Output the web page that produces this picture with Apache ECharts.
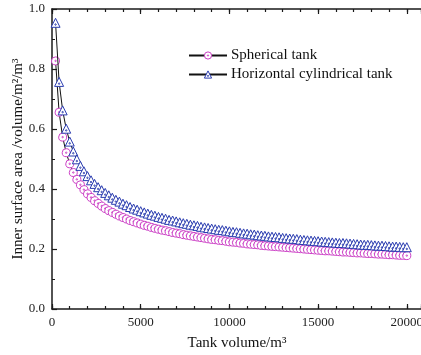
<!DOCTYPE html>
<html>
<head>
<meta charset="utf-8">
<script src="https://cdn.jsdelivr.net/npm/echarts@6/dist/echarts.min.js"></script>
<style>html,body{margin:0;padding:0;background:#fff}#c{width:421px;height:355px}</style>
</head>
<body>
<div id="c"></div>
<script>
const volumes = [200,400,600,800,1000,1200,1400,1600,1800,2000,2200,2400,2600,2800,3000,3200,3400,3600,3800,4000,
4200,4400,4600,4800,5000,5200,5400,5600,5800,6000,6200,6400,6600,6800,7000,7200,7400,7600,7800,8000,
8200,8400,8600,8800,9000,9200,9400,9600,9800,10000,10200,10400,10600,10800,11000,11200,11400,11600,11800,12000,
12200,12400,12600,12800,13000,13200,13400,13600,13800,14000,14200,14400,14600,14800,15000,15200,15400,15600,15800,16000,
16200,16400,16600,16800,17000,17200,17400,17600,17800,18000,18200,18400,18600,18800,19000,19200,19400,19600,19800,20000];
const spherical = [0.827,0.656,0.573,0.521,0.484,0.455,0.432,0.414,0.398,0.384,0.372,0.361,0.352,0.343,0.335,0.328,0.322,0.316,0.310,0.305,
0.300,0.295,0.291,0.287,0.283,0.279,0.276,0.272,0.269,0.266,0.263,0.261,0.258,0.255,0.253,0.251,0.248,0.246,0.244,0.242,
0.240,0.238,0.236,0.234,0.232,0.231,0.229,0.228,0.226,0.224,0.223,0.222,0.220,0.219,0.217,0.216,0.215,0.214,0.212,0.211,
0.210,0.209,0.208,0.207,0.206,0.205,0.204,0.203,0.202,0.201,0.200,0.199,0.198,0.197,0.196,0.195,0.194,0.194,0.193,0.192,
0.191,0.190,0.190,0.189,0.188,0.187,0.187,0.186,0.185,0.185,0.184,0.183,0.183,0.182,0.181,0.181,0.180,0.179,0.179,0.178];
const cylindrical = [0.954,0.757,0.662,0.601,0.558,0.525,0.499,0.477,0.459,0.443,0.429,0.417,0.406,0.396,0.387,0.379,0.371,0.364,0.358,0.351,
0.346,0.340,0.335,0.331,0.326,0.322,0.318,0.314,0.311,0.307,0.304,0.301,0.297,0.295,0.292,0.289,0.286,0.284,0.281,0.279,
0.277,0.274,0.272,0.270,0.268,0.266,0.264,0.263,0.261,0.259,0.257,0.256,0.254,0.252,0.251,0.249,0.248,0.246,0.245,0.244,
0.242,0.241,0.240,0.239,0.237,0.236,0.235,0.234,0.233,0.231,0.230,0.229,0.228,0.227,0.226,0.225,0.224,0.223,0.222,0.221,
0.220,0.220,0.219,0.218,0.217,0.216,0.215,0.214,0.214,0.213,0.212,0.211,0.211,0.210,0.209,0.208,0.208,0.207,0.206,0.206];
const seriesNames = ['Spherical tank', 'Horizontal cylindrical tank'];
const xTitle = 'Tank volume/m\u00B3';
const yTitle = 'Inner surface area /volume/m\u00B2/m\u00B3';

const FONT = '"Liberation Serif", "Times New Roman", serif';
const AX = '#1a1a1a';
const C1 = '#cc3fc6', C2 = '#2a3cb0';
const circleDot = 'path://M50,4A46,46 0 1,1 49.99,4ZM50,42A8,8 0 1,1 49.99,42Z';
const triDot = 'path://M50,4L96,92L4,92ZM50,58A7,7 0 1,1 49.99,58Z';

const chart = echarts.init(document.getElementById('c'), null, {renderer: 'canvas'});
function xAx(pos, interval, len, showLine, showLabel) {
  return {
    type: 'value', min: 0, max: 20800, interval: interval, position: pos,
    axisLine: {show: showLine, onZero: false, lineStyle: {color: AX, width: 1.5}},
    axisTick: {show: true, inside: true, length: len, lineStyle: {color: AX, width: 1.2}},
    splitLine: {show: false},
    axisLabel: {show: showLabel, margin: 7, fontFamily: FONT, fontSize: 13, color: '#222',
      formatter: v => (v % 5000 === 0 ? String(v) : '')}
  };
}
chart.setOption({
  animation: false,
  backgroundColor: '#fff',
  grid: {left: 52, top: 9, right: 0, height: 300, containLabel: false, outerBoundsMode: 'none'},
  legend: {
    orient: 'vertical', left: 183, top: 43, itemWidth: 38, itemHeight: 9, itemGap: 4,
    textStyle: {fontFamily: FONT, fontSize: 15, color: '#111', padding: [0,0,0,-1]},
    data: [
      {name: seriesNames[0], itemStyle: {color: '#fff', borderColor: C1, borderWidth: 1}},
      {name: seriesNames[1], itemStyle: {color: '#fff', borderColor: C2, borderWidth: 1}}
    ]
  },
  xAxis: [
    xAx('bottom', 5000, 5, true, true),
    xAx('bottom', 1000, 3, false, false),
    xAx('top', 5000, 5, true, false),
    xAx('top', 1000, 3, false, false)
  ],
  yAxis: {
    type: 'value', min: 0, max: 1.0, interval: 0.2,
    axisLine: {show: true, onZero: false, lineStyle: {color: AX, width: 1.5}},
    axisTick: {show: true, inside: true, length: 5, lineStyle: {color: AX, width: 1.2}},
    minorTick: {show: true, splitNumber: 2, length: 3, lineStyle: {color: AX, width: 1}},
    splitLine: {show: false},
    axisLabel: {margin: 7, fontFamily: FONT, fontSize: 13, color: '#222',
      formatter: v => v.toFixed(1)}
  },
  graphic: [
    {type: 'text', x: 237, y: 343,
      style: {text: xTitle, align: 'center', verticalAlign: 'middle', font: '15px ' + FONT, fill: '#111'}},
    {type: 'text', x: 18, y: 159, rotation: Math.PI / 2,
      style: {text: yTitle, align: 'center', verticalAlign: 'middle', font: '15px ' + FONT, fill: '#111'}}
  ],
  series: [
    {
      name: seriesNames[0], type: 'line', xAxisIndex: 0,
      data: volumes.map((v, i) => [v, spherical[i]]),
      symbol: circleDot, symbolSize: 8, showAllSymbol: true,
      lineStyle: {color: '#111', width: 1},
      itemStyle: {color: '#fff', borderColor: C1, borderWidth: 1},
      z: 2
    },
    {
      name: seriesNames[1], type: 'line', xAxisIndex: 0,
      data: volumes.map((v, i) => [v, cylindrical[i]]),
      symbol: triDot, symbolSize: 9, showAllSymbol: true,
      lineStyle: {color: '#111', width: 1},
      itemStyle: {color: '#fff', borderColor: C2, borderWidth: 1},
      z: 3
    }
  ]
});
</script>
</body>
</html>
